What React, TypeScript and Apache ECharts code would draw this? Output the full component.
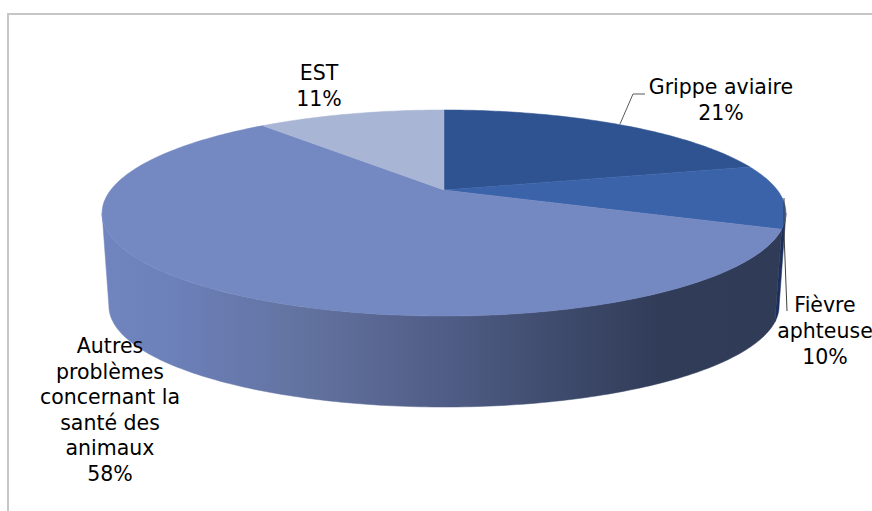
import React, { useEffect, useRef } from "react";
import * as echarts from "echarts";

// Survey shares, clockwise from twelve o'clock.
const categories = [
  "Grippe aviaire",
  "Fièvre\naphteuse",
  "Autres\nproblèmes\nconcernant la\nsanté des\nanimaux",
  "EST",
];
const shares = [21, 10, 58, 11];

// Colours per slice, in the same order.
const topColors = ["#2F5391", "#3A63A9", "#7488C2", "#A9B5D5"];
const wallColors = ["#1F3763", "#1B2F5C", "", "#7F8BAA"];

// Horizontal shading of the big front wall.
const wallStops = [
  { offset: 0, color: "#7085BF" },
  { offset: 0.1, color: "#6C80B9" },
  { offset: 0.3, color: "#62729F" },
  { offset: 0.5, color: "#505D86" },
  { offset: 0.66, color: "#404C6E" },
  { offset: 0.82, color: "#313C59" },
  { offset: 1, color: "#303B58" },
];

// Label anchors and leader lines, in pixels.
const labelCentres = [
  [721, 100],
  [825, 331],
  [110, 410],
  [319, 86],
];
const leaders: number[][][] = [
  [[620, 124], [633, 94], [645, 94]],
  [[784, 198], [784, 233], [787, 311]],
  [],
  [],
];
const leaderColors = ["#595959", "#3F3F3F", "", ""];

// Perspective projection of the pie disc.
const disc = { cx: 444, cy: 190, a: 333.3, b: 97.9, k: 0.2233 };
const depth = 93.5;
const lowerScale = 0.98;

// Where the disc's outline turns from front to back, in share units.
const visibleFrom = (Math.acos(-disc.k) / (Math.PI * 2)) * 100;
const visibleTo = 100 - visibleFrom;

function rim(turn: number, lower = false): number[] {
  const t = (turn / 100) * Math.PI * 2;
  const u = Math.sin(t);
  const v = Math.cos(t);
  const w = 1 + disc.k * v;
  const s = lower ? lowerScale : 1;
  return [
    disc.cx + (s * disc.a * u) / w,
    disc.cy + (lower ? depth : 0) - (s * disc.b * v) / w,
  ];
}

function arc(from: number, to: number, lower = false): number[][] {
  const pts: number[][] = [];
  const steps = Math.max(2, Math.ceil((to - from) * 4));
  for (let i = 0; i <= steps; i++) {
    pts.push(rim(from + ((to - from) * i) / steps, lower));
  }
  return pts;
}

function startOf(index: number): number {
  return shares.slice(0, index).reduce((s, x) => s + x, 0);
}

export default function App() {
  const ref = useRef<HTMLDivElement>(null);

  useEffect(() => {
    if (!ref.current) return;
    const chart = echarts.init(ref.current, undefined, { renderer: "svg" });
    const wallGradient = new echarts.graphic.LinearGradient(105, 0, 782, 0, wallStops, true);

    const renderWall = (params: any, api: any) => {
      const start = startOf(params.dataIndex);
      const from = Math.max(start, visibleFrom);
      const to = Math.min(start + api.value(0), visibleTo);
      if (to <= from) return { type: "group", children: [] };
      const fill = wallColors[params.dataIndex] || wallGradient;
      return {
        type: "polygon",
        shape: { points: [...arc(from, to), ...arc(from, to, true).reverse()] },
        style: { fill, stroke: fill, lineWidth: 0.5 },
      };
    };

    const renderTop = (params: any, api: any) => {
      const from = startOf(params.dataIndex);
      const to = from + api.value(0);
      const fill = topColors[params.dataIndex];
      return {
        type: "polygon",
        shape: { points: [[disc.cx, disc.cy], ...arc(from, to)] },
        style: { fill, stroke: fill, lineWidth: 0.5 },
      };
    };

    const renderLabel = (params: any, api: any) => {
      const i = params.dataIndex;
      const children: any[] = [
        {
          type: "text",
          x: labelCentres[i][0],
          y: labelCentres[i][1],
          style: {
            text: `${categories[i]}\n${api.value(0)}%`,
            textAlign: "center",
            textVerticalAlign: "middle",
            fontFamily: "DejaVu Sans",
            fontSize: 20.5,
            lineHeight: 25.6,
            fill: "#000000",
          },
        },
      ];
      if (leaders[i].length) {
        children.push({
          type: "polyline",
          shape: { points: leaders[i] },
          style: { fill: "none", stroke: leaderColors[i], lineWidth: 1 },
        });
      }
      return { type: "group", children };
    };

    const seriesBase = { type: "custom", coordinateSystem: "none", data: shares, silent: true };

    chart.setOption({
      animation: false,
      backgroundColor: "#ffffff",
      graphic: [
        {
          type: "rect",
          z: 0,
          shape: { x: 8, y: 14, width: 900, height: 540 },
          style: { fill: "#ffffff", stroke: "#C6C6C6", lineWidth: 2 },
        },
      ],
      series: [
        { ...seriesBase, z: 1, renderItem: renderWall },
        { ...seriesBase, z: 2, renderItem: renderTop },
        { ...seriesBase, z: 3, renderItem: renderLabel },
      ],
    });
    return () => chart.dispose();
  }, []);

  return (
    <div
      ref={ref}
      style={{ position: "absolute", left: 0, top: 0, width: 872, height: 511 }}
    />
  );
}
